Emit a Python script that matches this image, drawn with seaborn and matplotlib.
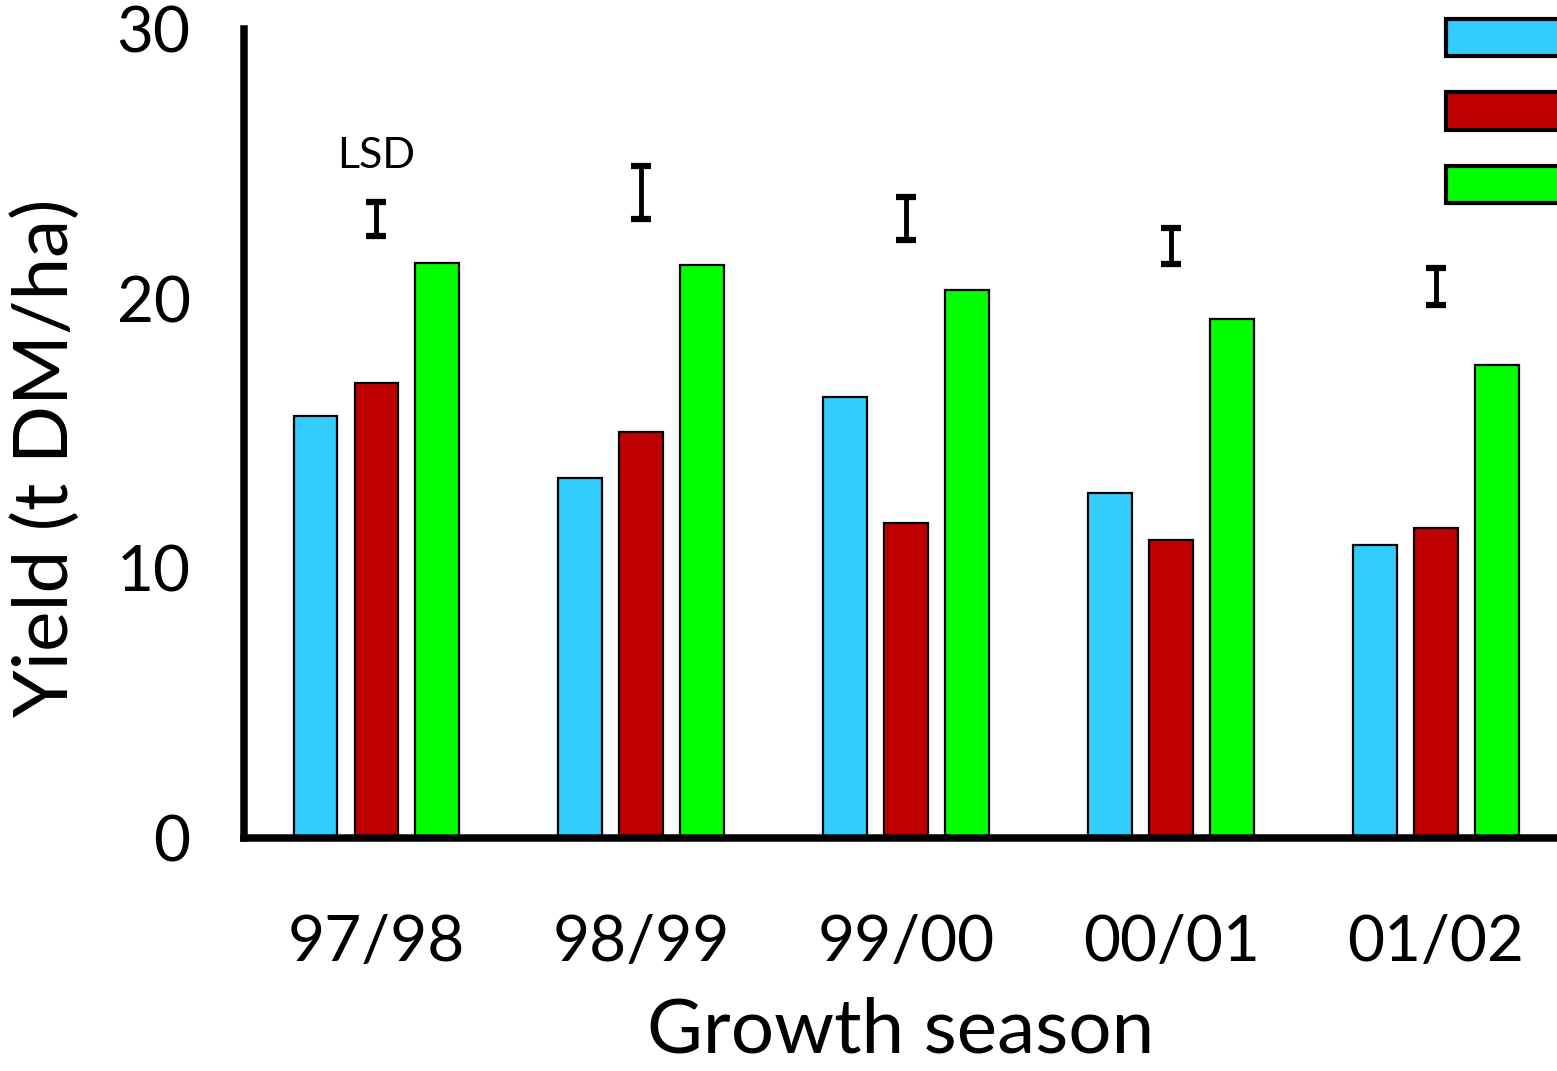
import matplotlib
matplotlib.use("Agg")
import matplotlib.pyplot as plt
import seaborn as sns
import pandas as pd
from matplotlib.patches import Patch

# ---- data ----
seasons = ["97/98", "98/99", "99/00", "00/01", "01/02"]
treatments = ["T1", "T2", "T3"]
yield_t1 = [15.65, 13.35, 16.35, 12.79, 10.86]
yield_t2 = [16.87, 15.05, 11.68, 11.05, 11.49]
yield_t3 = [21.32, 21.25, 20.32, 19.24, 17.54]
lsd_center = [22.95, 23.95, 22.97, 21.95, 20.45]
lsd_half = [0.63, 0.98, 0.80, 0.67, 0.67]
colors = ["#33CCFF", "#C00000", "#00FF00"]

rows = []
for t, vals in zip(treatments, [yield_t1, yield_t2, yield_t3]):
    for s, v in zip(seasons, vals):
        rows.append({"Season": s, "Treatment": t, "Yield": v})
df = pd.DataFrame(rows)

sns.set_style("white")
plt.rcParams["font.family"] = ["Lato", "DejaVu Sans"]
plt.rcParams["text.color"] = "black"
plt.rcParams["axes.labelcolor"] = "black"
plt.rcParams["xtick.color"] = "black"
plt.rcParams["ytick.color"] = "black"

fig = plt.figure(figsize=(15.57, 10.71), dpi=100)
ax = fig.add_axes([244 / 1557, 1 - 838 / 1071, 1 - 244 / 1557, (838 - 29) / 1071])

sns.barplot(data=df, x="Season", y="Yield", hue="Treatment", order=seasons,
            hue_order=treatments, palette=colors, width=0.69, gap=0.28,
            edgecolor="black", linewidth=1.6, saturation=1, errorbar=None,
            legend=False, ax=ax)

ax.errorbar(x=list(range(len(seasons))), y=lsd_center, yerr=lsd_half, fmt="none",
            ecolor="black", elinewidth=3.5, capsize=7, capthick=4.5, zorder=5)
ax.text(0, 25.3, "LSD", ha="center", va="center", fontsize=31)

ax.set_ylim(0, 30)
ax.set_xlim(-0.5, 4.457)
ax.set_yticks([0, 10, 20, 30])
ax.set_xlabel("Growth season", fontsize=55, labelpad=18)
ax.set_ylabel("Yield (t DM/ha)", fontsize=55)
ax.yaxis.set_label_coords(-0.124, 0.47)

for side in ["top", "right"]:
    ax.spines[side].set_visible(False)
for side in ["left", "bottom"]:
    ax.spines[side].set_linewidth(5.4)
    ax.spines[side].set_color("black")

ax.tick_params(axis="both", which="major", direction="out", length=16.5, width=5.4,
               color="black", labelcolor="black", labelsize=46)
ax.tick_params(axis="y", pad=22)
ax.tick_params(axis="x", pad=38)

handles = [Patch(facecolor=c, edgecolor="black", linewidth=3) for c in colors]
fig.legend(handles, ["", "", ""], loc="upper left",
           bbox_to_anchor=(1446 / 1557, 1 - 19 / 1071), frameon=False,
           fontsize=30, handleheight=1.0, handlelength=4, labelspacing=0.8,
           borderpad=0, borderaxespad=0, handletextpad=0)

fig.savefig("out.png", dpi=100)
